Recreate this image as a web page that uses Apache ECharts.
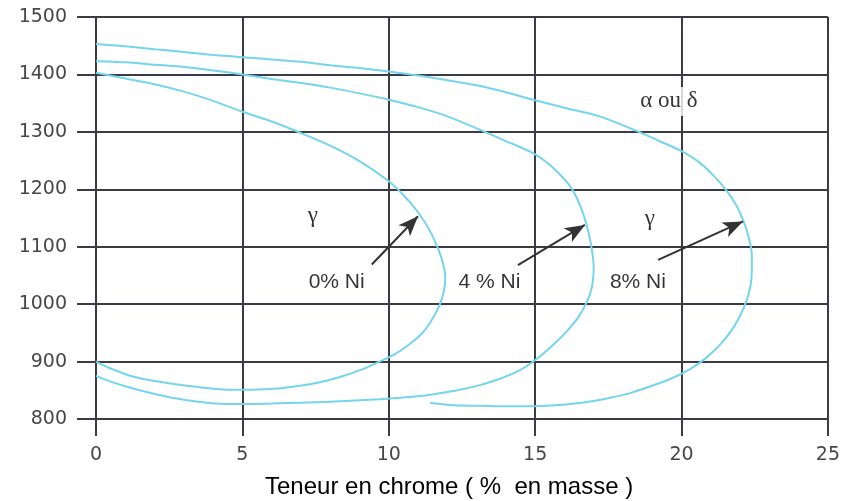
<!DOCTYPE html>
<html>
<head>
<meta charset="utf-8">
<script src="https://cdn.jsdelivr.net/npm/echarts@6/dist/echarts.min.js"></script>
<style>
  html, body { margin: 0; padding: 0; background: #fff; }
  #chart { width: 843px; height: 501px; }
</style>
</head>
<body>
<div id="chart"></div>
<script>
// Boundaries of the gamma loop, [chromium %, temperature °C], traced from the
// upper branch round the nose to the lower branch.
const loopNi0 = [
  [0, 1403], [1, 1393], [2, 1383], [3, 1370], [4, 1354], [5, 1335],
  [6, 1318], [7, 1298], [8, 1276], [9, 1249], [10, 1214], [10.5, 1190],
  [11, 1160], [11.4, 1128], [11.7, 1095], [11.88, 1065], [11.93, 1045],
  [11.89, 1025], [11.75, 1000], [11.51, 976], [11.17, 951], [10.73, 931],
  [10.21, 913], [9.64, 899], [9.02, 885], [8.33, 873], [7.65, 864],
  [6.97, 858], [6.2, 853], [5.3, 851], [4.5, 851], [3.6, 855], [2.8, 860],
  [2, 866], [1.2, 875], [0.5, 888], [0, 900]
];
const loopNi4 = [
  [0, 1423], [1, 1421], [2, 1417], [3, 1413], [4, 1407], [5, 1400],
  [6, 1392], [7, 1385], [8, 1377], [9, 1367], [10, 1356], [11, 1343],
  [12, 1327], [13, 1306], [14, 1284], [15, 1261], [15.6, 1238], [16.2, 1205],
  [16.55, 1170], [16.8, 1130], [16.95, 1090], [17.0, 1062], [16.97, 1040],
  [16.89, 1020], [16.73, 1000], [16.46, 976], [16.09, 953], [15.61, 929],
  [15.06, 905], [14.48, 885], [13.8, 870], [13.11, 859], [12.43, 851],
  [11.75, 845], [11.07, 840], [10.4, 837], [9.7, 834.5], [9, 832.5],
  [8, 830], [7, 828.5], [6, 827], [5, 826], [4.4, 826], [3.5, 830],
  [2.5, 838], [1.8, 846], [1, 857], [0.5, 865], [0, 875]
];
const loopNi8 = [
  [0, 1453], [1, 1449], [2, 1444], [3, 1439], [4, 1434], [5, 1430],
  [6, 1426], [7, 1422], [8, 1416], [9, 1411], [10, 1405], [11, 1398],
  [12, 1390], [13, 1381], [14, 1369], [15, 1355], [16, 1342], [17.2, 1327],
  [18.4, 1303], [19.2, 1285], [20.05, 1265], [20.63, 1246], [21.11, 1223],
  [21.52, 1199], [21.86, 1173], [22.13, 1143], [22.3, 1115], [22.4, 1087],
  [22.4, 1060], [22.36, 1033], [22.23, 1007], [21.99, 979], [21.69, 953],
  [21.31, 929], [20.83, 906], [20.29, 887], [19.67, 871], [18.99, 858],
  [18.24, 845], [17.38, 835], [16.53, 828], [15.68, 824], [14.82, 822],
  [13.97, 822], [13.11, 823], [12.26, 824], [11.41, 828]
];

// Arrows from each nickel label to its curve: [tail, head]
const arrowNi0 = [[9.42, 1069], [11.0, 1153]];
const arrowNi4 = [[14.41, 1068], [16.7, 1138]];
const arrowNi8 = [[19.2, 1077], [22.1, 1144]];

// Text notes placed in data coordinates
const nickelNotes = [
  { name: '0% Ni', value: [8.22, 1038] },
  { name: '4 % Ni', value: [13.44, 1038] },
  { name: '8% Ni', value: [18.51, 1039] }
];
const phaseNotes = [
  { name: 'γ', value: [7.41, 1153] },
  { name: 'γ', value: [18.92, 1149] },
  { name: 'α ou δ', value: [19.57, 1353] }
];

const xTicks = { min: 0, max: 25, step: 5 };
const yTicks = { min: 800, max: 1500, step: 100 };
const xTitle = 'Teneur en chrome ( %  en masse )';

const gridColor = '#3b3b46';
const curveColor = '#74d5ec';

const chart = echarts.init(document.getElementById('chart'), null, { renderer: 'canvas' });

function loopSeries(data) {
  return {
    type: 'line',
    data: data,
    smooth: 0.3,
    showSymbol: false,
    symbol: 'none',
    lineStyle: { color: curveColor, width: 2 },
    z: 3,
    silent: true
  };
}

function arrowLine(pair) {
  return [{ coord: pair[0] }, { coord: pair[1] }];
}

const tickLabel = { fontFamily: 'DejaVu Sans', fontSize: 19, color: '#474747' };

chart.setOption({
  animation: false,
  backgroundColor: '#ffffff',
  grid: { left: 96, right: 15, top: 17, bottom: 82 },
  title: {
    text: xTitle,
    left: 260,
    top: 470,
    textStyle: { fontFamily: 'Liberation Sans', fontSize: 24, fontWeight: 'normal', color: '#000' }
  },
  xAxis: {
    type: 'value',
    min: xTicks.min, max: xTicks.max, interval: xTicks.step,
    axisLine: { show: true, lineStyle: { color: gridColor, width: 2 } },
    axisTick: { show: true, length: 17, lineStyle: { color: gridColor, width: 2 } },
    axisLabel: Object.assign({ margin: 27, formatter: v => String(v) }, tickLabel),
    splitLine: { show: true, lineStyle: { color: gridColor, width: 2 } }
  },
  yAxis: {
    type: 'value',
    min: yTicks.min, max: yTicks.max, interval: yTicks.step,
    axisLine: { show: true, lineStyle: { color: gridColor, width: 2 } },
    axisTick: { show: true, length: 19, lineStyle: { color: gridColor, width: 2 } },
    axisLabel: Object.assign({ margin: 29, formatter: v => String(v) }, tickLabel),
    splitLine: { show: true, lineStyle: { color: gridColor, width: 2 } }
  },
  series: [
    loopSeries(loopNi0),
    loopSeries(loopNi4),
    loopSeries(loopNi8),
    {
      type: 'line',
      data: [],
      silent: true,
      markLine: {
        silent: true,
        symbol: ['none', 'arrow'],
        symbolSize: [12, 20],
        label: { show: false },
        lineStyle: { color: '#333333', width: 2, type: 'solid' },
        data: [arrowLine(arrowNi0), arrowLine(arrowNi4), arrowLine(arrowNi8)]
      },
      z: 4
    },
    {
      type: 'scatter',
      data: nickelNotes,
      symbolSize: 0,
      silent: true,
      z: 5,
      label: {
        show: true,
        position: 'inside',
        formatter: p => p.name,
        fontFamily: 'Liberation Sans',
        fontSize: 21,
        color: '#000',
        backgroundColor: '#fff',
        padding: [4, 8]
      }
    },
    {
      type: 'scatter',
      data: phaseNotes,
      symbolSize: 0,
      silent: true,
      z: 5,
      label: {
        show: true,
        position: 'inside',
        formatter: p => p.name,
        fontFamily: 'Liberation Serif',
        fontSize: 23,
        color: '#000',
        backgroundColor: '#fff',
        padding: [3, 6]
      }
    }
  ]
});
</script>
</body>
</html>
